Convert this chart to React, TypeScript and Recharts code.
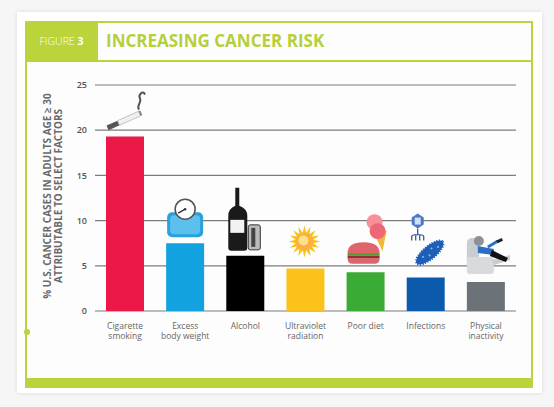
import { Bar, BarChart, CartesianGrid, Cell, LabelList, XAxis, YAxis } from "recharts";

const categories = [
  "Cigarette\nsmoking",
  "Excess\nbody weight",
  "Alcohol",
  "Ultraviolet\nradiation",
  "Poor diet",
  "Infections",
  "Physical\ninactivity",
];
const percentCases = [19.3, 7.5, 6.1, 4.7, 4.3, 3.7, 3.2];
const yTicks = [0, 5, 10, 15, 20, 25];

const barColors = ["#ec1848", "#12a2e0", "#000000", "#fcc21c", "#3aab35", "#0b5aac", "#6b7379"];
const GREEN = "#bcd43c";
const FONT = "'Open Sans', sans-serif";

const data = categories.map((name, i) => ({ name, pct: percentCases[i] }));

function CategoryTick({ x, y, payload }: any) {
  const lines = String(payload.value).split("\n");
  return (
    <text x={x} y={y} textAnchor="middle" fill="#666" fontSize={8.5} fontFamily={FONT}>
      {lines.map((l, i) => (
        <tspan key={i} x={x} dy={10}>
          {l}
        </tspan>
      ))}
    </text>
  );
}

function YTitle() {
  return (
    <g fill="#6a6a6a" fontSize={10} fontWeight={700} fontFamily={FONT} textAnchor="middle">
      <text transform="translate(51,196) rotate(-90)">% U.S. CANCER CASES IN ADULTS AGE ≥ 30</text>
      <text transform="translate(62,196) rotate(-90)">ATTRIBUTABLE TO SELECT FACTORS</text>
    </g>
  );
}

// little pictures sitting on top of each bar
function sunRays(cx: number, cy: number) {
  const pts: string[] = [];
  for (let i = 0; i < 32; i++) {
    const r = i % 2 === 0 ? 16 : 9;
    const a = (i * Math.PI) / 16;
    pts.push(`${cx + r * Math.cos(a)},${cy + r * Math.sin(a)}`);
  }
  return pts.join(" ");
}

function BarIcon(props: any) {
  const { x, y, width, value } = props;
  const cx = x + width / 2;
  const t = y;
  switch (value) {
    case "Cigarette\nsmoking":
      return (
        <g>
          <g transform={`translate(${cx - 1},${t - 16}) rotate(-24)`}>
            <rect x={-18} y={-2.5} width={12} height={5} fill="#555" />
            <rect x={-6} y={-2.5} width={23} height={5} fill="#f0f0f0" stroke="#aaa" strokeWidth={0.6} />
            <rect x={17} y={-2.5} width={2} height={5} fill="#888" />
          </g>
          <path
            d={`M${cx + 14},${t - 27} C${cx + 11},${t - 31} ${cx + 17},${t - 34} ${cx + 15},${t - 38} C${cx + 13},${t - 42} ${cx + 18},${t - 47} ${cx + 20},${t - 42}`}
            stroke="#555"
            strokeWidth={2}
            fill="none"
          />
        </g>
      );
    case "Excess\nbody weight":
      return (
        <g>
          <rect x={cx - 18} y={t - 31} width={36} height={25} rx={5} fill="#2aa0dc" />
          <rect x={cx - 15} y={t - 28} width={30} height={19} rx={4} fill="#5cc0ee" />
          <circle cx={cx} cy={t - 34} r={10} fill="#fff" stroke="#555" strokeWidth={1.6} />
          <line x1={cx} y1={t - 34} x2={cx - 7} y2={t - 30} stroke="#333" strokeWidth={1.4} />
          <circle cx={cx} cy={t - 34} r={1.2} fill="#333" />
        </g>
      );
    case "Alcohol":
      return (
        <g>
          <path
            d={`M${cx - 10},${t - 68} h4 v18 q8,3 8,10 v32 q0,3 -3,3 h-13 q-3,0 -3,-3 v-32 q0,-7 7,-10 z`}
            fill="#1a1a1a"
          />
          <rect x={cx - 15} y={t - 36} width={14} height={13} fill="#f2f2f2" />
          <rect x={cx + 3} y={t - 31} width={12} height={25} rx={2} fill="#bbb" stroke="#333" strokeWidth={1} />
          <rect x={cx + 6} y={t - 28} width={4} height={19} fill="#444" />
        </g>
      );
    case "Ultraviolet\nradiation":
      return (
        <g>
          <polygon points={sunRays(cx - 1, t - 27)} fill="#f8c21d" />
          <circle cx={cx - 1} cy={t - 27} r={9} fill="#fbb040" />
          <circle cx={cx - 2} cy={t - 28} r={5} fill="#fde08a" />
        </g>
      );
    case "Poor diet":
      return (
        <g>
          <polygon points={`${cx + 8},${t - 40} ${cx + 21},${t - 42} ${cx + 17},${t - 21}`} fill="#f2b63a" />
          <circle cx={cx + 9} cy={t - 50} r={8} fill="#f7909b" />
          <circle cx={cx + 12} cy={t - 41} r={8} fill="#ec6877" />
          <path d={`M${cx - 18},${t - 19} q0,-11 16,-11 q16,0 16,11 z`} fill="#e0646c" />
          <rect x={cx - 18} y={t - 19} width={32} height={2.5} fill="#4e9a2e" />
          <rect x={cx - 18} y={t - 16.5} width={32} height={3} fill="#9b2d2d" />
          <path d={`M${cx - 18},${t - 13.5} h32 q0,5 -5,5 h-22 q-5,0 -5,-5 z`} fill="#e0646c" />
        </g>
      );
    case "Infections":
      return (
        <g>
          <polygon
            points={`${cx - 8},${t - 64} ${cx - 2},${t - 60} ${cx - 2},${t - 53} ${cx - 8},${t - 49} ${cx - 14},${t - 53} ${cx - 14},${t - 60}`}
            fill="#4a78c8"
          />
          <rect x={cx - 11} y={t - 60} width={6} height={7} fill="#cfe0f6" />
          <path
            d={`M${cx - 8},${t - 49} v6 M${cx - 14},${t - 37} v-4 q0,-2 6,-2 q6,0 6,2 v4 M${cx - 10},${t - 37} v-6 M${cx - 6},${t - 37} v-6`}
            stroke="#3a5a90"
            strokeWidth={1.3}
            fill="none"
          />
          <g transform={`translate(${cx + 4},${t - 25}) rotate(-40)`}>
            <ellipse rx={17} ry={6.5} fill="#1d5fb8" stroke="#1d5fb8" strokeWidth={2.2} strokeDasharray="1 1.6" />
            <circle cx={-8} cy={-1} r={1} fill="#8fb8ea" />
            <circle cx={-2} cy={2} r={1} fill="#8fb8ea" />
            <circle cx={4} cy={-2} r={1} fill="#8fb8ea" />
            <circle cx={10} cy={1} r={1} fill="#8fb8ea" />
          </g>
        </g>
      );
    case "Physical\ninactivity":
      return (
        <g>
          <rect x={cx - 19} y={t - 44} width={12} height={30} rx={5} fill="#c9ccd0" />
          <rect x={cx - 19} y={t - 25} width={27} height={17} rx={3} fill="#d8dadd" />
          <polygon points={`${cx + 6},${t - 22} ${cx + 24},${t - 27} ${cx + 24},${t - 22} ${cx + 8},${t - 17}`} fill="#c9ccd0" />
          <circle cx={cx - 7} cy={t - 41} r={5} fill="#8d9196" />
          <path d={`M${cx - 8},${t - 36} l16,3 l0,6 l-16,-2 z`} fill="#2b6fc2" />
          <path d={`M${cx + 6},${t - 32} l16,8 l-2,4 l-16,-6 z`} fill="#111" />
          <path d={`M${cx + 2},${t - 35} l10,-6`} stroke="#2b6fc2" strokeWidth={3} />
          <rect x={cx + 11} y={t - 43} width={6} height={3} fill="#222" transform={`rotate(-25 ${cx + 14} ${t - 41})`} />
        </g>
      );
    default:
      return null;
  }
}

export default function App() {
  return (
    <div
      style={{
        position: "fixed",
        left: 0,
        top: 0,
        width: 554,
        height: 407,
        background: "#f6f6f6",
        fontFamily: FONT,
        overflow: "hidden",
      }}
    >
      {/* card */}
      <div
        style={{
          position: "absolute",
          left: 17,
          top: 12,
          width: 525,
          height: 381,
          background: "#fff",
          boxShadow: "0 0 4px rgba(0,0,0,0.12)",
        }}
      />
      {/* green frame */}
      <div
        style={{
          position: "absolute",
          left: 25,
          top: 21,
          width: 504,
          height: 357,
          border: `2px solid ${GREEN}`,
          borderBottom: "none",
          background: "#fdfdfd",
        }}
      />
      <div style={{ position: "absolute", left: 25, top: 378, width: 508, height: 10, background: GREEN }} />
      <div style={{ position: "absolute", left: 25, top: 60, width: 508, height: 2, background: GREEN }} />
      <div
        style={{
          position: "absolute",
          left: 24,
          top: 329,
          width: 6,
          height: 6,
          borderRadius: 3,
          background: GREEN,
        }}
      />
      <div
        style={{
          position: "absolute",
          left: 25,
          top: 21,
          width: 73,
          height: 40,
          background: GREEN,
          color: "#fff",
          fontSize: 10.5,
          lineHeight: "40px",
          textAlign: "center",
        }}
      >
        <span style={{ fontWeight: 300 }}>FIGURE </span>
        <span style={{ fontWeight: 700 }}>3</span>
      </div>
      <div
        style={{
          position: "absolute",
          left: 106,
          top: 29,
          fontSize: 17,
          fontWeight: 700,
          color: "#b6cf3a",
          whiteSpace: "nowrap",
        }}
      >
        INCREASING CANCER RISK
      </div>

      <div style={{ position: "absolute", left: 0, top: 0 }}>
        <BarChart
          width={554}
          height={407}
          data={data}
          margin={{ top: 85, right: 38, left: 35, bottom: 56 }}
        >
          <CartesianGrid vertical={false} stroke="#7d7d7d" strokeWidth={1.2} />
          <XAxis
            dataKey="name"
            axisLine={false}
            tickLine={false}
            interval={0}
            height={40}
            tick={<CategoryTick />}
          />
          <YAxis
            domain={[0, 25]}
            ticks={yTicks}
            axisLine={false}
            tickLine={false}
            width={60}
            tick={{ fontSize: 9, fill: "#555", fontWeight: 600, fontFamily: FONT }}
            label={{ content: () => <YTitle /> }}
          />
          <Bar dataKey="pct" barSize={38} isAnimationActive={false}>
            {data.map((d, i) => (
              <Cell key={d.name} fill={barColors[i]} />
            ))}
            <LabelList dataKey="name" content={<BarIcon />} />
          </Bar>
        </BarChart>
      </div>
    </div>
  );
}
